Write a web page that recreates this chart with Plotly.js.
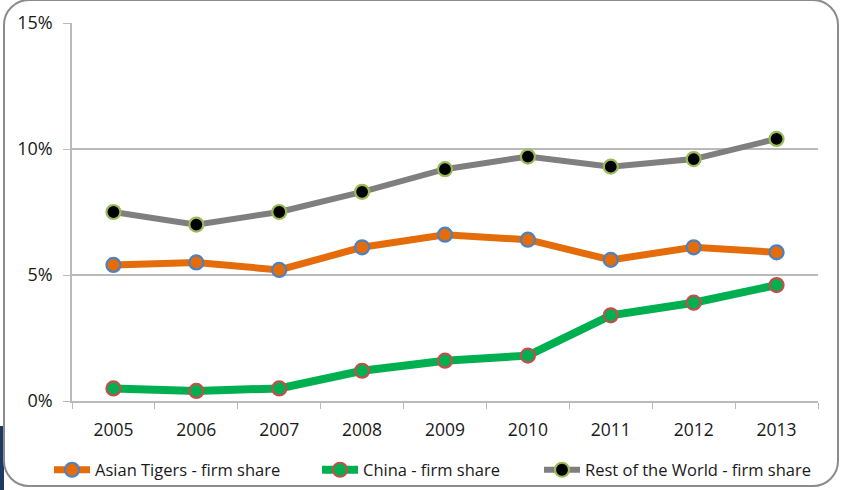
<!DOCTYPE html>
<html>
<head>
<meta charset="utf-8">
<script src="https://cdn.plot.ly/plotly-3.0.1.min.js"></script>
<style>
  html, body { margin: 0; padding: 0; background: #ffffff; }
  #wrap { position: relative; width: 845px; height: 490px; overflow: hidden; background: #ffffff; }
  #frame {
    position: absolute; left: 3px; top: -1px; width: 832px; height: 484px;
    border: 2px solid #8c8c8c; border-radius: 26px; background: #ffffff;
  }
  #tab { position: absolute; left: 0; top: 426px; width: 4px; height: 64px; background: #1f3864; }
  #chart { position: absolute; left: 0; top: 0; width: 845px; height: 490px; }
</style>
</head>
<body>
<div id="wrap">
  <div id="tab"></div>
  <div id="frame"></div>
  <div id="chart"></div>
</div>
<script>
// Years on the category axis
const years = ["2005", "2006", "2007", "2008", "2009", "2010", "2011", "2012", "2013"];

// Firm share by region, in percent
const asianTigers = [5.4, 5.5, 5.2, 6.1, 6.6, 6.4, 5.6, 6.1, 5.9];
const china       = [0.5, 0.4, 0.5, 1.2, 1.6, 1.8, 3.4, 3.9, 4.6];
const restOfWorld = [7.5, 7.0, 7.5, 8.3, 9.2, 9.7, 9.3, 9.6, 10.4];

// Y axis ticks
const yTicks = [0, 5, 10, 15];
const yTickText = ["0%", "5%", "10%", "15%"];

function series(name, values, lineColor, lineWidth, fill, outline, legendId) {
  return {
    type: "scatter",
    mode: "lines+markers",
    name: name,
    legend: legendId,
    x: years,
    y: values,
    line: { color: lineColor, width: lineWidth },
    marker: { size: 14, color: fill, line: { color: outline, width: 2.2 } },
    hoverinfo: "x+y+name"
  };
}

const traces = [
  series("Asian Tigers - firm share", asianTigers, "#E46C0A", 7, "#E46C0A", "#4F81BD", "legend"),
  series("China - firm share", china, "#00B050", 8, "#00B050", "#C0504D", "legend2"),
  series("Rest of the World - firm share", restOfWorld, "#7F7F7F", 6, "#000000", "#9BBB59", "legend3")
];

const axisGray = "#bababa";
const textColor = "#1a1a1a";
const font = "Open Sans, Liberation Sans, sans-serif";

// One legend box per series, laid out along the bottom edge
function legendAt(px) {
  return {
    orientation: "h",
    xref: "container",
    x: px / 845,
    xanchor: "left",
    yref: "container",
    y: 1 - 470 / 490,
    yanchor: "middle",
    itemwidth: 36,
    font: { family: font, size: 16.5, color: textColor },
    itemclick: false,
    itemdoubleclick: false,
    bgcolor: "rgba(0,0,0,0)"
  };
}

const layout = {
  width: 845,
  height: 490,
  autosize: false,
  margin: { l: 72, r: 27, t: 23, b: 89, autoexpand: false },
  paper_bgcolor: "rgba(0,0,0,0)",
  plot_bgcolor: "rgba(0,0,0,0)",
  font: { family: font, color: textColor, size: 17 },
  showlegend: true,
  legend: legendAt(49),
  legend2: legendAt(317),
  legend3: legendAt(539),
  xaxis: {
    type: "category",
    range: [-0.5, 8.5],
    automargin: false,
    tickson: "boundaries",
    ticks: "outside",
    ticklen: 6,
    tickcolor: axisGray,
    showline: true,
    linecolor: axisGray,
    linewidth: 1.5,
    showgrid: false,
    zeroline: false,
    ticklabelstandoff: 12,
    tickfont: { family: font, size: 17.5, color: textColor },
    fixedrange: true
  },
  yaxis: {
    range: [0, 15],
    automargin: false,
    tickvals: yTicks,
    ticktext: yTickText,
    ticks: "outside",
    ticklen: 7,
    tickcolor: axisGray,
    showline: true,
    linecolor: axisGray,
    linewidth: 1.5,
    showgrid: true,
    gridcolor: axisGray,
    gridwidth: 1.5,
    zeroline: false,
    ticklabelstandoff: 7,
    tickfont: { family: font, size: 18, color: textColor },
    fixedrange: true
  }
};

Plotly.newPlot("chart", traces, layout, { displayModeBar: false });
</script>
</body>
</html>
